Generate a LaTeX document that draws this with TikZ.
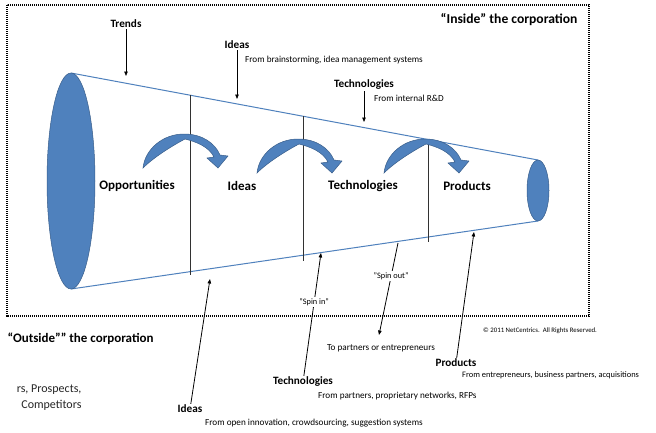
\documentclass[tikz,border=0pt]{standalone}
\usepackage{fontspec}
\setmainfont{Carlito}
\usetikzlibrary{arrows.meta}
\definecolor{funnelblue}{RGB}{79,129,189}
\definecolor{funneledge}{RGB}{56,93,138}
\definecolor{rodgray}{RGB}{50,50,50}
\tikzset{
  stage/.style={font=\bfseries\fontsize{13}{15}\selectfont},
  lbl/.style={font=\bfseries\fontsize{11.2}{13}\selectfont, inner sep=1pt},
  sub/.style={font=\fontsize{9.2}{10}\selectfont, anchor=west, inner sep=0pt},
  quote/.style={font=\fontsize{8.3}{9}\selectfont, fill=white, inner sep=1.5pt},
  pointer/.style={-{Triangle[length=4.5pt,width=3.5pt]}, line width=0.8pt},
  funnel/.style={funnelblue, line width=1pt},
  rod/.style={rodgray, line width=0.9pt},
  blob/.style={fill=funnelblue, draw=funneledge, line width=0.5pt},
  flip/.pic={
    \filldraw[blob]
      (0,0) .. controls (18,0) and (31,9) .. (36,21) -- (44,22) -- (34,34) -- (23,24) -- (30,23)
      .. controls (25,13) and (13,8) .. (1,5)
      .. controls (-14,13) and (-31,24) .. (-41,34)
      .. controls (-39,15) and (-21,0) .. (0,0) -- cycle;
  }
}
\begin{document}
\begin{tikzpicture}[x=1pt,y=-1pt]
  \useasboundingbox[fill=white] (0,0) rectangle (656,432);
  %% corporation border
  \draw[line width=1.3pt, dash pattern=on 1.1pt off 0.9pt] (7,5) rectangle (589,316);
  \node[font=\bfseries\fontsize{13.6}{15}\selectfont, anchor=east] (inside) at (581,20) {“Inside” the corporation};

  %% funnel
  \coordinate (bigtop) at (71,73);
  \coordinate (bigbot) at (71,289);
  \coordinate (smalltop) at (538,160);
  \coordinate (smallbot) at (538,221);
  \draw[funnel] (bigtop) -- (smalltop);
  \draw[funnel] (bigbot) -- (smallbot);
  \draw[blob] (71,181) ellipse [x radius=24, y radius=108];
  \draw[blob] (538,190.5) ellipse [x radius=11, y radius=30.5];

  %% stage walls
  \coordinate (w1t) at (190,95);  \coordinate (w1b) at (190,275);
  \coordinate (w2t) at (303,116); \coordinate (w2b) at (303,261);
  \coordinate (w3t) at (428,140); \coordinate (w3b) at (428,242);
  \draw[rod] (w1t) -- (w1b);
  \draw[rod] (w2t) -- (w2b);
  \draw[rod] (w3t) -- (w3b);

  %% curved arrows
  \pic at (184,134) {flip};
  \pic at (298,139) {flip};
  \pic at (425,139) {flip};

  %% stages
  \node[stage] (opp) at (137,186) {Opportunities};
  \node[stage] (ideasM) at (242,186) {Ideas};
  \node[stage] (techM) at (363,186) {Technologies};
  \node[stage] (prodM) at (467,186) {Products};

  %% inside sources
  \node[lbl] (trends) at (126,24) {Trends};
  \coordinate (trendsend) at (126,76);
  \draw[pointer] (trends) -- (trendsend);
  \node[lbl] (ideasT) at (237,45) {Ideas};
  \coordinate (ideasTend) at (237,99);
  \draw[pointer] (ideasT) -- (ideasTend);
  \node[sub] (ideasTsub) at (245,60) {From brainstorming, idea management systems};
  \node[lbl] (techT) at (364,85) {Technologies};
  \coordinate (techTend) at (364,122);
  \draw[pointer] (techT) -- (techTend);
  \node[sub] (techTsub) at (374,98) {From internal R\&D};

  %% outside sources
  \node[font=\bfseries\fontsize{13}{15}\selectfont, anchor=west] (outside) at (4,339) {“Outside”” the corporation};
  \node[font=\fontsize{12}{16}\selectfont, anchor=east, align=right, text=black!85] (crowd) at (85,398) {rs, Prospects,\\Competitors};

  \node[lbl] (ideasB) at (190,409) {Ideas};
  \coordinate (ideasBend) at (210,279);
  \draw[pointer] (ideasB) -- (ideasBend);
  \node[sub] (ideasBsub) at (205,423) {From open innovation, crowdsourcing, suggestion systems};

  \node[lbl] (techB) at (303,382) {Technologies};
  \coordinate (techBend) at (321,253);
  \draw[pointer] (techB) -- (techBend) node[quote, pos=0.6] (spinin) {"Spin in"};
  \node[sub] (techBsub) at (318,396) {From partners, proprietary networks, RFPs};

  \node[lbl] (prodB) at (456,363) {Products};
  \coordinate (prodBend) at (474,232);
  \draw[pointer] (prodB) -- (prodBend);
  \node[sub, font=\fontsize{8.4}{10}\selectfont] (prodBsub) at (462,375) {From entrepreneurs, business partners, acquisitions};

  %% spin out
  \coordinate (outstart) at (398,243);
  \coordinate (outend) at (379,335);
  \draw[pointer] (outstart) -- (outend) node[quote, pos=0.36] (spinout) {"Spin out"};
  \node[sub, anchor=center] (partners) at (381,348) {To partners or entrepreneurs};

  \node[font=\fontsize{6.8}{7}\selectfont, anchor=west, inner sep=0pt] (copy) at (483,331) {© 2011 NetCentrics.\ \ All Rights Reserved.};
\end{tikzpicture}
\end{document}
